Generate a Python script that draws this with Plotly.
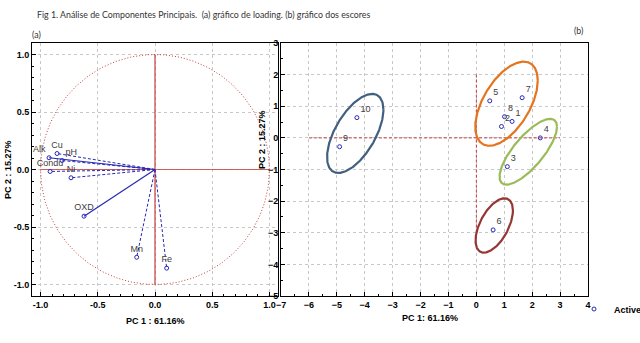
import numpy as np
import plotly.graph_objects as go

# ---------------- data ----------------
load_names = ["Alk", "Cu", "pH", "Condu", "Ni", "OXD", "Mn", "Fe"]
load_pc1 = [-0.926, -0.856, -0.812, -0.917, -0.734, -0.620, -0.160, 0.102]
load_pc2 = [0.102, 0.139, 0.078, -0.017, -0.072, -0.406, -0.763, -0.858]
load_dash = ["solid", "dash", "dash", "dash", "dash", "solid", "dash", "dash"]
load_textpos = ["top left", "top center", "top right", "top center", "top center",
                "top center", "top center", "top center"]

score_names = ["1", "2", "3", "4", "5", "6", "7", "8", "9", "10"]
score_pc1 = [1.28, 0.90, 1.11, 2.29, 0.48, 0.60, 1.64, 1.01, -4.90, -4.28]
score_pc2 = [0.52, 0.36, -0.91, 0.00, 1.17, -2.91, 1.27, 0.67, -0.28, 0.64]

# group ellipses: center x, center y, half width, half height, tilt (correlation)
ell_cx = [-4.34, 1.08, 1.86, 0.64]
ell_cy = [0.14, 1.08, -0.44, -2.77]
ell_w = [1.01, 1.12, 1.03, 0.67]
ell_h = [1.25, 1.33, 1.04, 0.86]
ell_r = [0.60, 0.55, 0.76, 0.55]
ell_col = ["#41607f", "#e4741e", "#9bbb59", "#953735"]

left_ticks = [-1.0, -0.5, 0.0, 0.5, 1.0]
right_xticks = [-7, -6, -5, -4, -3, -2, -1, 0, 1, 2, 3, 4]
right_yticks = [3, 2, 1, 0, -1, -2, -3, -4, -5]

title_text = "Fig 1. Análise de Componentes Principais.  (a) gráfico de loading. (b) gráfico dos escores"

# ---------------- figure ----------------
fig = go.Figure()
red = "#c83c3c"
blue = "#2828b4"

# unit circle
t = np.linspace(0, 2 * np.pi, 361)
fig.add_trace(go.Scatter(x=np.cos(t), y=np.sin(t), mode="lines",
                         line=dict(color=red, width=1, dash="1px,2px"),
                         showlegend=False, hoverinfo="skip", xaxis="x", yaxis="y"))
fig.add_trace(go.Scatter(x=[0, 0], y=[-1, 1], mode="lines",
                         line=dict(color=red, width=1.2), showlegend=False,
                         xaxis="x", yaxis="y"))
fig.add_trace(go.Scatter(x=[-1, 1], y=[0, 0], mode="lines",
                         line=dict(color=red, width=0.8), showlegend=False,
                         xaxis="x", yaxis="y"))

# loading vectors
for xv, yv, d in zip(load_pc1, load_pc2, load_dash):
    fig.add_trace(go.Scatter(x=[0, xv], y=[0, yv], mode="lines",
                             line=dict(color=blue, width=1 if d == "dash" else 1.2,
                                       dash="3px,2px" if d == "dash" else "solid"),
                             showlegend=False, hoverinfo="skip", xaxis="x", yaxis="y"))
fig.add_trace(go.Scatter(x=load_pc1, y=load_pc2, mode="markers+text",
                         text=load_names, textposition=load_textpos,
                         textfont=dict(family="Arial, Liberation Sans", size=9, color="#404040"),
                         marker=dict(symbol="circle-open", size=4, color=blue, line=dict(width=1)),
                         showlegend=False, xaxis="x", yaxis="y"))

# right panel crosshairs
fig.add_trace(go.Scatter(x=[-6, 3], y=[0, 0], mode="lines",
                         line=dict(color=red, width=1, dash="3px,2px"), showlegend=False,
                         xaxis="x2", yaxis="y2"))
fig.add_trace(go.Scatter(x=[0, 0], y=[2, -3.2], mode="lines",
                         line=dict(color=red, width=1, dash="3px,2px"), showlegend=False,
                         xaxis="x2", yaxis="y2"))

# ellipses
for cx, cy, w, h, r, c in zip(ell_cx, ell_cy, ell_w, ell_h, ell_r, ell_col):
    ex = cx + w * np.cos(t)
    ey = cy + h * (r * np.cos(t) + np.sqrt(1 - r * r) * np.sin(t))
    fig.add_trace(go.Scatter(x=ex, y=ey, mode="lines", line=dict(color=c, width=2.2),
                             showlegend=False, hoverinfo="skip", xaxis="x2", yaxis="y2"))

fig.add_trace(go.Scatter(x=score_pc1, y=score_pc2, mode="markers+text",
                         text=score_names, textposition="top right",
                         textfont=dict(family="Arial, Liberation Sans", size=9, color="#404040"),
                         marker=dict(symbol="circle-open", size=4, color=blue, line=dict(width=1)),
                         name="Active", showlegend=True, xaxis="x2", yaxis="y2"))

tickfont = dict(family="Arial, Liberation Sans", size=9, color="black", weight="bold")
common = dict(showline=True, linecolor="black", linewidth=1, mirror=True,
              ticks="inside", ticklen=4, tickcolor="black",
              showgrid=True, gridcolor="#c8c8c8", griddash="dot", gridwidth=1,
              zeroline=False, tickfont=tickfont, automargin=False)
minor = dict(ticks="inside", ticklen=2, tickcolor="black", showgrid=False)

fig.update_layout(
    width=640, height=343, margin=dict(l=0, r=0, t=0, b=0, autoexpand=False),
    paper_bgcolor="white", plot_bgcolor="white",
    xaxis=dict(domain=[32 / 640, 278 / 640], range=[-1.075, 1.075],
               tickvals=left_ticks, ticktext=["-1.0", "-0.5", "0.0", "0.5", "1.0"],
               minor=dict(dtick=0.1, **minor), anchor="y", **common),
    yaxis=dict(domain=[47 / 343, 300 / 343], range=[-1.1, 1.1],
               tickvals=left_ticks, ticktext=["-1.0", "-0.5", "0.0", "0.5", "1.0"],
               minor=dict(dtick=0.1, **minor), anchor="x", **common),
    xaxis2=dict(domain=[281 / 640, 588 / 640], range=[-7, 4],
                tickvals=right_xticks, minor=dict(dtick=0.5, **minor),
                anchor="y2", **common),
    yaxis2=dict(domain=[47 / 343, 300 / 343], range=[-5, 3],
                tickvals=right_yticks, minor=dict(dtick=0.5, **minor),
                anchor="x2", **common),
    legend=dict(x=574 / 640, y=1 - 309 / 343, xanchor="left", yanchor="middle",
                font=dict(family="Arial, Liberation Sans", size=9, color="black", weight="bold"),
                bgcolor="rgba(0,0,0,0)", itemwidth=30, tracegroupgap=0),
    showlegend=True,
)

ann_font = dict(family="Arial, Liberation Sans", size=9, color="black", weight="bold")
small_font = dict(family="Liberation Sans Narrow, Lato, Arial", size=8.8, color="#333333")
annotations = [
    dict(x=35 / 640, y=1 - 14 / 343, text=title_text, showarrow=False, xanchor="left",
         yanchor="middle", font=small_font),
    dict(x=30 / 640, y=1 - 34 / 343, text="(a)", showarrow=False, xanchor="left", yanchor="middle",
         font=small_font),
    dict(x=572 / 640, y=1 - 31 / 343, text="(b)", showarrow=False, xanchor="left", yanchor="middle",
         font=small_font),
    dict(x=155 / 640, y=1 - 321 / 343, text="PC 1 : 61.16%", showarrow=False,
         xanchor="center", yanchor="middle", font=ann_font),
    dict(x=430 / 640, y=1 - 318 / 343, text="PC 1: 61.16%", showarrow=False,
         xanchor="center", yanchor="middle", font=ann_font),
    dict(x=8 / 640, y=1 - 170 / 343, text="PC 2 : 15.27%", showarrow=False, textangle=-90,
         xanchor="center", yanchor="middle", font=ann_font),
    dict(x=262 / 640, y=1 - 140 / 343, text="PC 2 : 15.27%", showarrow=False, textangle=-90,
         xanchor="center", yanchor="middle", font=ann_font),
]
for a in annotations:
    a["xref"] = "paper"
    a["yref"] = "paper"
fig.update_layout(annotations=annotations)

fig.write_html("out.html")
